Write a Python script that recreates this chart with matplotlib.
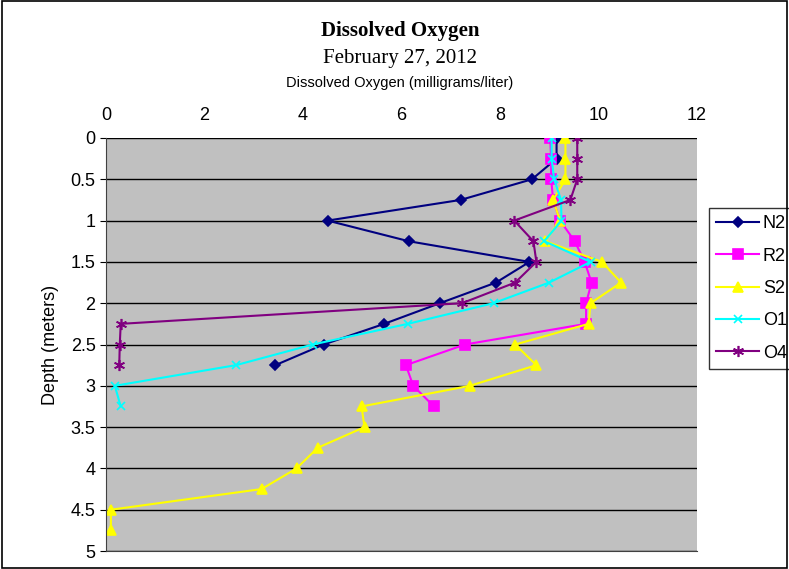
import numpy as np
import matplotlib
matplotlib.use("Agg")
import matplotlib.pyplot as plt
from matplotlib.patches import Rectangle

plt.rcParams["font.family"] = ["Liberation Sans", "DejaVu Sans"]

# Depth readings (meters) and dissolved oxygen (mg/L) for each site
depth = [0, 0.25, 0.5, 0.75, 1.0, 1.25, 1.5, 1.75, 2.0, 2.25, 2.5, 2.75,
         3.0, 3.25, 3.5, 3.75, 4.0, 4.25, 4.5, 4.75]

n2 = [9.15, 9.15, 8.65, 7.2, 4.5, 6.15, 8.6, 7.92, 6.78, 5.65, 4.42, 3.44]
r2 = [9.02, 9.04, 9.04, 9.08, 9.22, 9.52, 9.72, 9.86, 9.75, 9.75, 7.29, 6.09,
      6.24, 6.66]
s2 = [9.33, 9.33, 9.33, 9.08, 9.22, 8.92, 10.07, 10.46, 9.84, 9.8, 8.31, 8.74,
      7.39, 5.19, 5.25, 4.3, 3.87, 3.16, 0.1, 0.1]
o1 = [9.05, 9.05, 9.1, 9.24, 9.25, 8.9, 9.84, 9.0, 7.87, 6.13, 4.2, 2.64,
      0.18, 0.3]
o4 = [9.57, 9.57, 9.57, 9.43, 8.29, 8.68, 8.74, 8.31, 7.23, 0.3, 0.28, 0.27]

series = [
    ("N2", n2, "#000080", "D", 5),
    ("R2", r2, "#FF00FF", "s", 7),
    ("S2", s2, "#FFFF00", "^", 7),
    ("O1", o1, "#00FFFF", "x", 6),
    ("O4", o4, "#800080", (6, 2, 0), 8),
]

fig = plt.figure(figsize=(7.89, 5.69), dpi=100)
ax = fig.add_axes([0.1343, 0.0316, 0.749, 0.7259])
ax.set_facecolor("#C0C0C0")

for name, vals, color, marker, ms in series:
    ax.plot(vals, depth[:len(vals)], color=color, marker=marker, markersize=ms,
            linewidth=1.5, markeredgewidth=1.2, label=name)

ax.set_xlim(0, 12)
ax.set_ylim(5, 0)
ax.set_xticks(np.arange(0, 13, 2))
ax.set_yticks(np.arange(0, 5.01, 0.5))
ax.set_yticklabels(["0", "0.5", "1", "1.5", "2", "2.5", "3", "3.5", "4", "4.5", "5"])
ax.xaxis.tick_top()
ax.tick_params(axis="x", length=0, labelsize=13, pad=10)
ax.tick_params(axis="y", length=4, labelsize=13)
ax.grid(axis="y", color="black", linewidth=1)
ax.set_axisbelow(True)
for side in ["top", "right"]:
    ax.spines[side].set_visible(False)
ax.spines["left"].set_color("#404040")
ax.spines["bottom"].set_color("#404040")
ax.set_ylabel("Depth (meters)", fontsize=13, labelpad=8)

fig.text(0.507, 0.945, "Dissolved Oxygen", ha="center", va="center",
         family="Liberation Serif", fontweight="bold", fontsize=15)
fig.text(0.507, 0.898, "February 27, 2012", ha="center", va="center",
         family="Liberation Serif", fontsize=15)
fig.text(0.507, 0.855, "Dissolved Oxygen (milligrams/liter)", ha="center",
         va="center", fontsize=10.5)

leg = ax.legend(loc="upper left", bbox_to_anchor=(1.02, 0.83), frameon=True,
                fancybox=False, edgecolor="black", fontsize=13,
                handlelength=2.4, handletextpad=0.2, labelspacing=0.85,
                borderaxespad=0)
leg.get_frame().set_linewidth(1)

fig.patches.append(Rectangle((0.002, 0.002), 0.996, 0.996, transform=fig.transFigure,
                             fill=False, edgecolor="black", linewidth=1.2))

fig.savefig("out.png", dpi=100)
